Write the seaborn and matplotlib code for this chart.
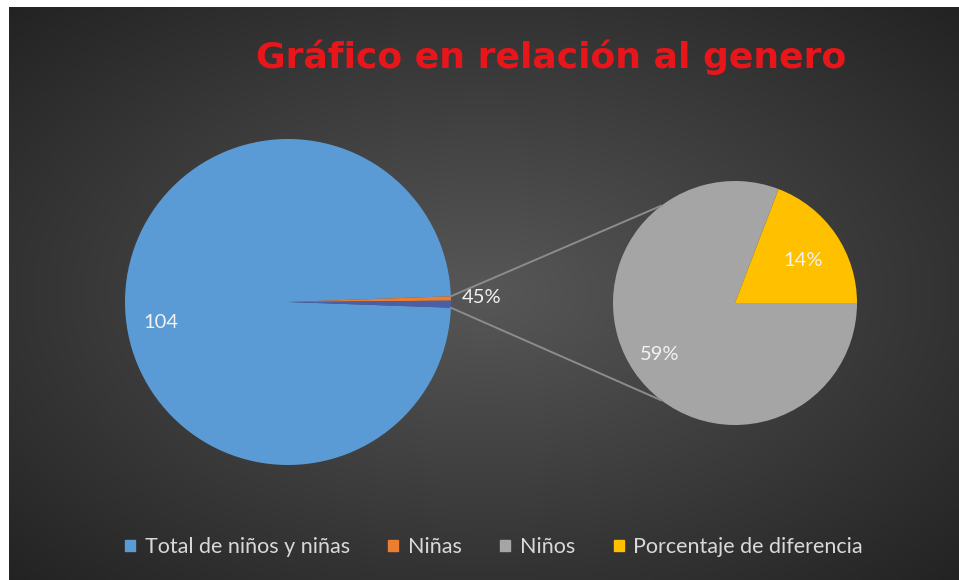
import numpy as np
import matplotlib
matplotlib.use("Agg")
import matplotlib.pyplot as plt
from matplotlib.patches import ConnectionPatch, Patch
from matplotlib.colors import LinearSegmentedColormap
import seaborn as sns

# datos del grafico
main_labels = ["Total de niños y niñas", "Niñas"]
main_values = [104, 0.45]
sub_labels = ["Niños", "Porcentaje de diferencia"]
sub_values = [0.59, 0.14]
title = "Gráfico en relación al genero"

colors_main = ["#5b9bd5", "#ed7d31", "#4a5fa8"]
colors_sub = ["#a5a5a5", "#ffc000"]

sns.set_theme(style="white")
plt.rcParams['font.family'] = ['Lato', 'DejaVu Sans']

W, H = 959, 580
fig = plt.figure(figsize=(W / 100, H / 100), dpi=100)
fig.patch.set_facecolor("white")

# fondo con degradado radial
bg = fig.add_axes([9 / W, 0, (W - 9) / W, (H - 7) / H])
yy, xx = np.mgrid[-1:1:300j, -1:1:500j]
rr = np.sqrt(xx ** 2 + yy ** 2) / np.sqrt(2)
cmap_bg = LinearSegmentedColormap.from_list("bg", ["#575757", "#3d3d3d", "#232323"])
bg.imshow(rr, cmap=cmap_bg, aspect="auto", vmin=0, vmax=1)
bg.axis("off")


def pie_axes(cx, cy, r):
    half = 1.25 * r
    ax = fig.add_axes([(cx - half) / W, (H - cy - half) / H, 2 * half / W, 2 * half / H])
    return ax


# pastel principal (el resto va al pastel secundario)
main_all = main_values + [sum(sub_values)]
small_angle = 360 * sum(main_all[1:]) / sum(main_all)
ax1 = pie_axes(288, 302, 163)
w1, _ = ax1.pie(main_all, colors=colors_main, startangle=-small_angle / 2,
                counterclock=False, wedgeprops=dict(linewidth=0))
ax1.set_xlim(-1.25, 1.25)
ax1.set_ylim(-1.25, 1.25)

# pastel secundario
ax2 = pie_axes(735, 303, 122)
w2, _ = ax2.pie(sub_values, colors=colors_sub, startangle=0,
                counterclock=False, wedgeprops=dict(linewidth=0))
ax2.set_xlim(-1.25, 1.25)
ax2.set_ylim(-1.25, 1.25)


def put_label(ax, wedge, text, dist, dy=0):
    mid = np.deg2rad((wedge.theta1 + wedge.theta2) / 2)
    ax.annotate(text, (dist * np.cos(mid), dist * np.sin(mid)), xytext=(0, dy),
                textcoords="offset points", ha="center", va="center",
                color="#f2f2f2", fontsize=14.5, zorder=5)


put_label(ax1, w1[0], f"{main_values[0]:.0f}", 0.78, dy=-15)
put_label(ax1, w1[1], f"{main_values[1]:.0%}", 1.19)
put_label(ax2, w2[0], f"{sub_values[0]:.0%}", 0.75)
put_label(ax2, w2[1], f"{sub_values[1]:.0%}", 0.68, dy=-3)

# lineas de conexion
top_a = np.deg2rad(w1[1].theta2)
bot_a = np.deg2rad(w1[2].theta1)
for a_main, a_sub in [(top_a, np.deg2rad(127)), (bot_a, np.deg2rad(233))]:
    con = ConnectionPatch(xyA=(np.cos(a_main), np.sin(a_main)), coordsA=ax1.transData,
                          xyB=(np.cos(a_sub), np.sin(a_sub)), coordsB=ax2.transData,
                          color="#8c8c8c", lw=1.4)
    fig.add_artist(con)

fig.text(551 / W, 1 - 57 / H, title, color="#e8161b", fontsize=26,
         fontweight="bold", ha="center", va="center", family="DejaVu Sans")

handles = [Patch(color=c) for c in colors_main[:2] + colors_sub]
fig.legend(handles, main_labels + sub_labels, loc="center",
           bbox_to_anchor=(494 / W, 1 - 547 / H), ncol=4, frameon=False,
           labelcolor="#d9d9d9", fontsize=15.5, handlelength=0.45, handleheight=0.45,
           columnspacing=1.8, handletextpad=0.45)

fig.savefig("out.png", dpi=100)
